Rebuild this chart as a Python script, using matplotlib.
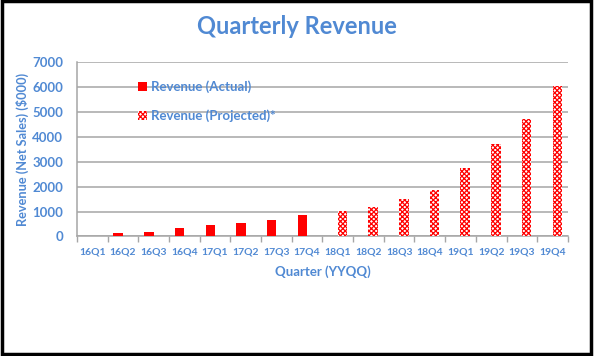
import matplotlib.pyplot as plt
import numpy as np
from matplotlib.patches import Rectangle, Patch

# Data
quarters = ["16Q1", "16Q2", "16Q3", "16Q4", "17Q1", "17Q2", "17Q3", "17Q4",
            "18Q1", "18Q2", "18Q3", "18Q4", "19Q1", "19Q2", "19Q3", "19Q4"]
actual = [10, 130, 200, 345, 465, 545, 655, 855,
          0, 0, 0, 0, 0, 0, 0, 0]
projected = [0, 0, 0, 0, 0, 0, 0, 0,
             1010, 1190, 1500, 1860, 2750, 3700, 4720, 6050]

blue = '#5089d3'
plt.rcParams['font.family'] = ['Lato', 'DejaVu Sans']
plt.rcParams['hatch.linewidth'] = 0.9

fig = plt.figure(figsize=(5.94, 3.56), dpi=100)
ax = fig.add_axes([0.1296, 0.3357, 0.8264, 0.4893])

x = np.arange(len(quarters))
w = 0.31
ax.bar(x - w / 2, actual, width=w, color='#ff0000', linewidth=0, zorder=3)
ax.bar(x + w / 2, projected, width=w, color='white', edgecolor='#ff0000',
       hatch='xxxxxxx', linewidth=0, zorder=3)

ax.set_xlim(-0.5, len(quarters) - 0.5)
ax.set_ylim(0, 7000)
ax.set_yticks(range(0, 7001, 1000))
ax.yaxis.grid(True, color='#a6a6a6', linewidth=1.1, zorder=0)
ax.set_axisbelow(True)

ax.set_xticks(x)
ax.set_xticklabels(quarters)
ax.set_xticks(np.arange(-0.5, len(quarters)), minor=True)
ax.tick_params(axis='x', which='major', length=0, pad=8, labelsize=7.5,
               labelcolor=blue)
ax.tick_params(axis='x', which='minor', length=4, color='#a6a6a6', width=1)
ax.tick_params(axis='y', length=0, pad=10, labelsize=9.5, labelcolor=blue)
for lbl in ax.get_xticklabels() + ax.get_yticklabels():
    lbl.set_fontweight('bold')

for s in ['top', 'right']:
    ax.spines[s].set_visible(False)
for s in ['left', 'bottom']:
    ax.spines[s].set_color('#a6a6a6')
    ax.spines[s].set_linewidth(1.1)

ax.set_xlabel("Quarter (YYQQ)", color=blue, fontsize=9.5, fontweight='bold',
              labelpad=6)
ax.set_ylabel("Revenue (Net Sales) ($000)", color=blue, fontsize=9.2,
              fontweight='bold', labelpad=2)
fig.text(0.5, 0.925, "Quarterly Revenue", color=blue, fontsize=17,
         fontweight='bold', ha='center', va='center')

handles = [Patch(facecolor='#ff0000', linewidth=0),
           Patch(facecolor='white', edgecolor='#ff0000', hatch='xxxxxxx', linewidth=0)]
leg = ax.legend(handles, ["Revenue (Actual)", "Revenue (Projected)*"],
                loc='upper left', bbox_to_anchor=(0.1, 0.965), frameon=False,
                handlelength=0.7, handleheight=0.7, handletextpad=0.3,
                labelspacing=1.25, fontsize=9.5)
for t in leg.get_texts():
    t.set_color(blue)
    t.set_fontweight('bold')

# black frame around the whole picture
fig.patches.append(Rectangle((0.003, 0.006), 0.992, 0.991, transform=fig.transFigure,
                             fill=False, edgecolor='black', linewidth=2.5))

fig.savefig("out.png", dpi=100)
